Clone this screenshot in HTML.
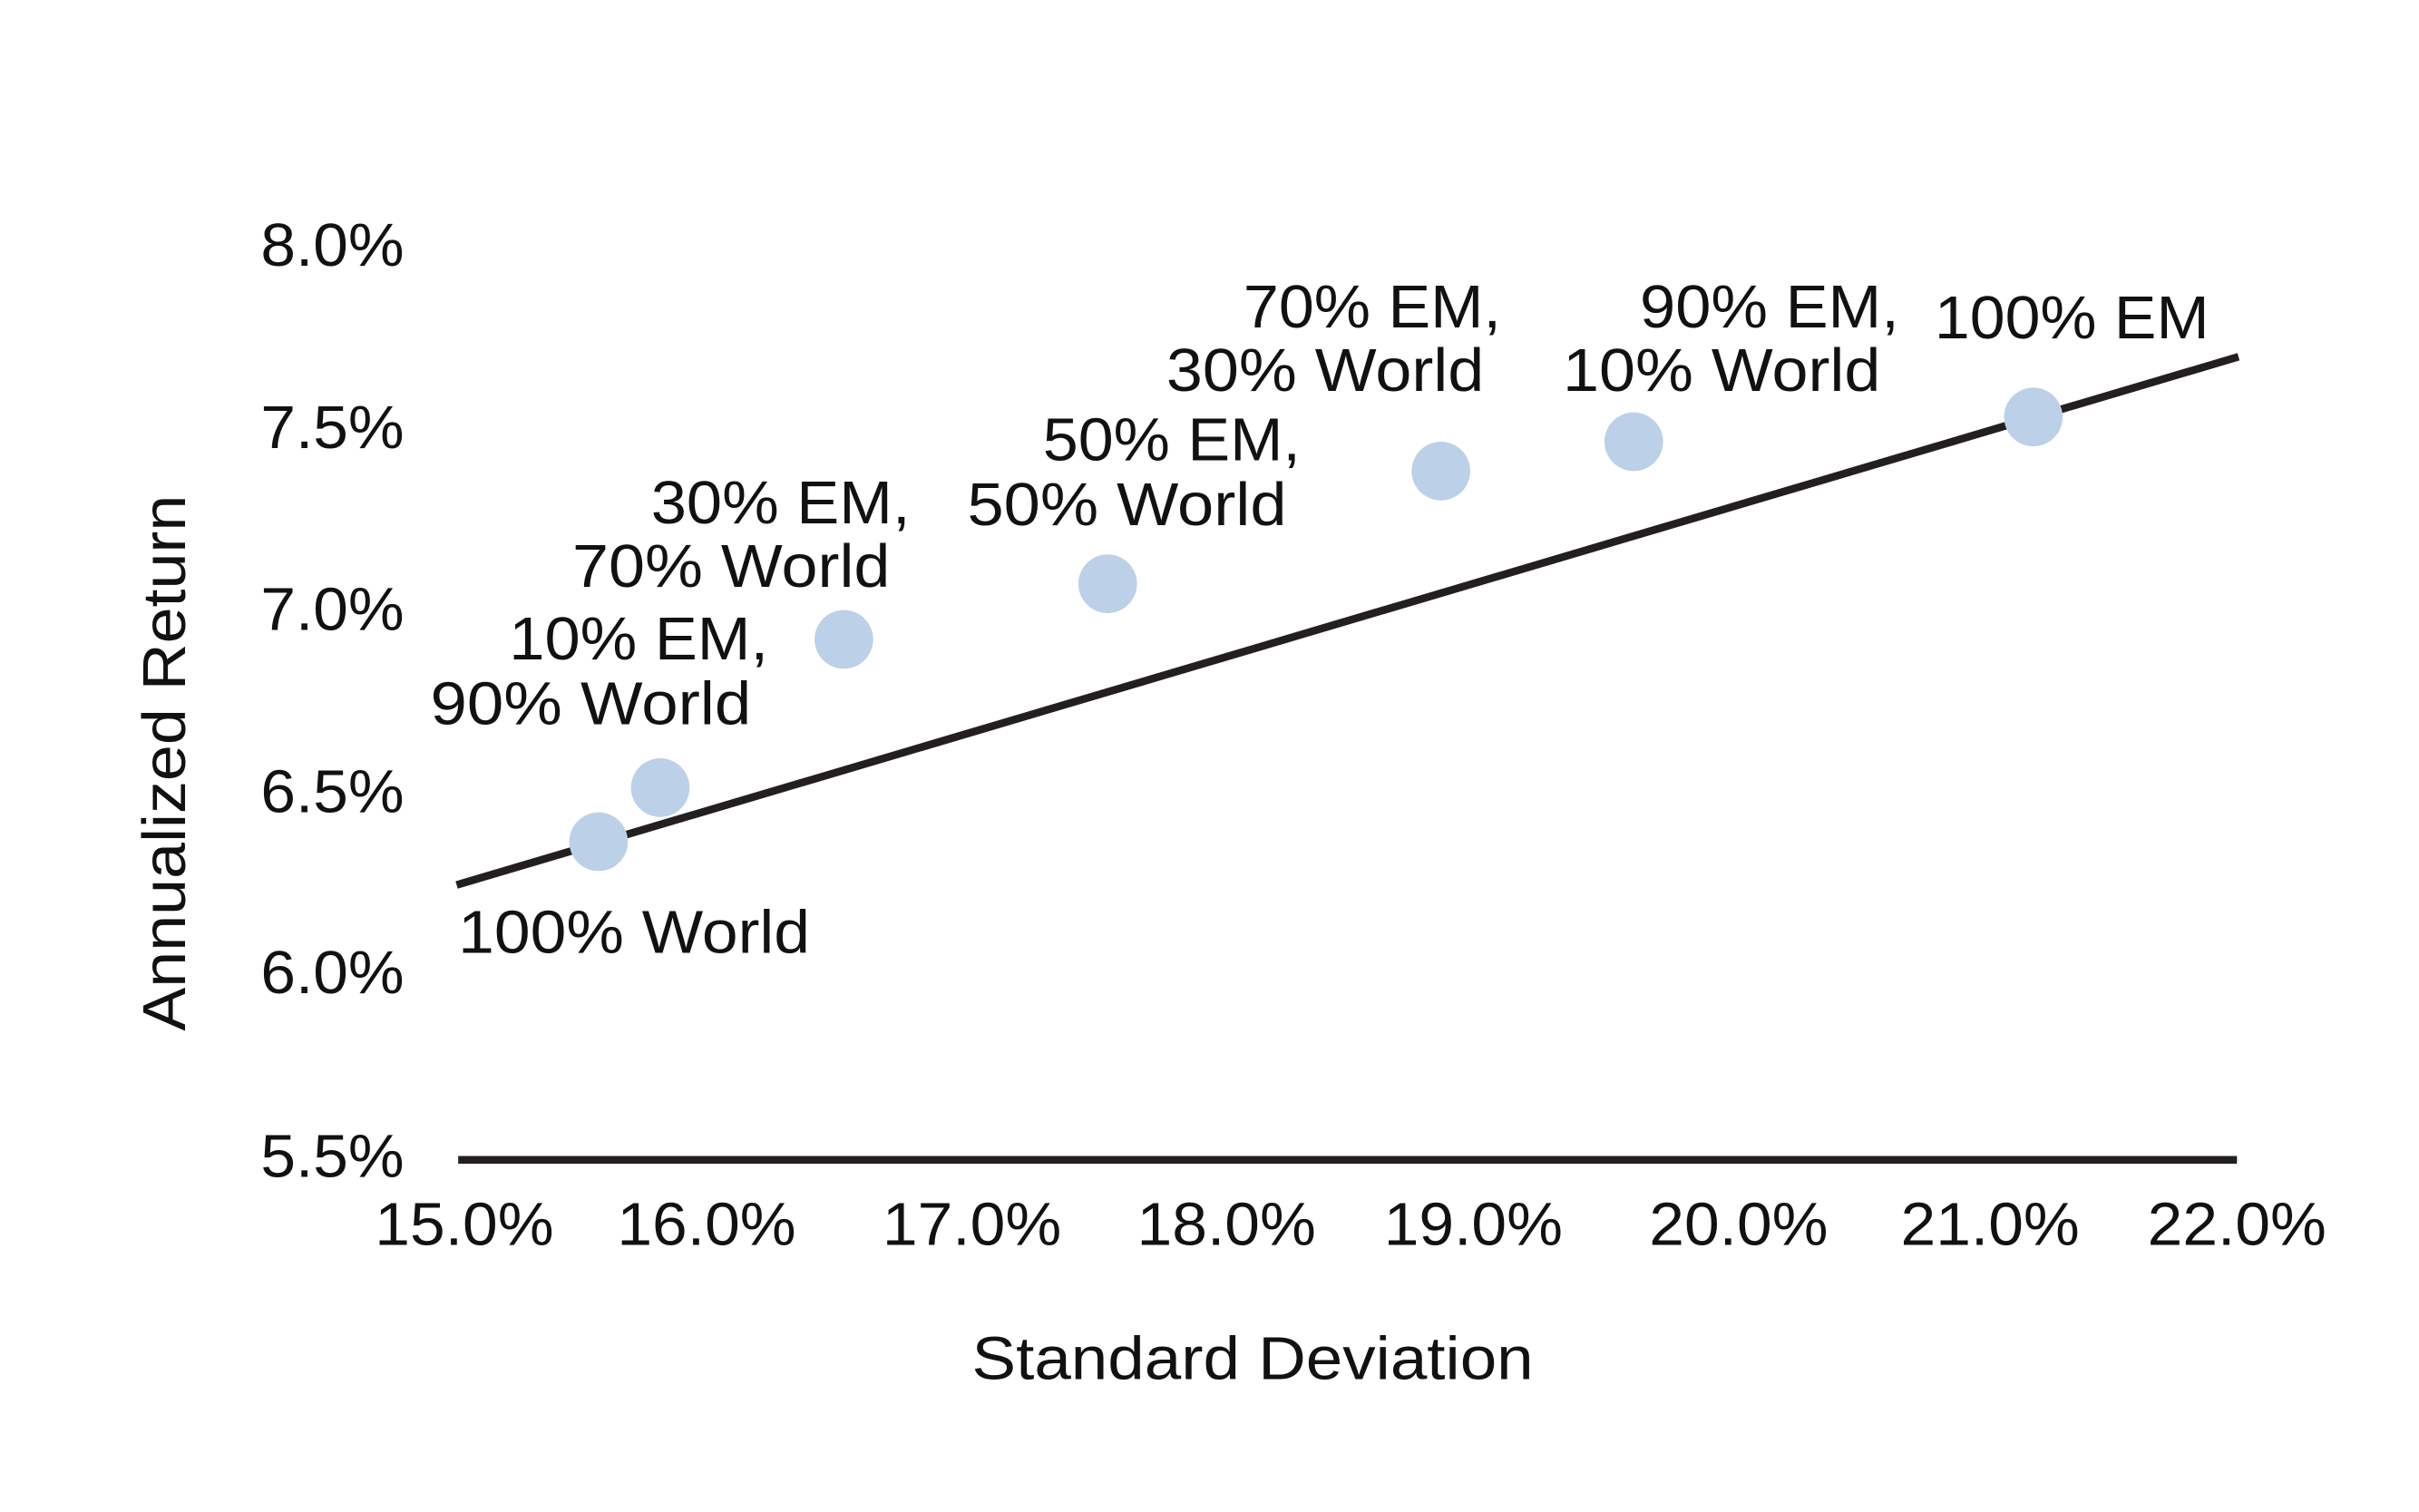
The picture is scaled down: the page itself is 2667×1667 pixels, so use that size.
<!DOCTYPE html>
<html><head><meta charset="utf-8"><style>
html,body{margin:0;padding:0;background:#fff;}
svg{display:block;}
text{font-family:"Liberation Sans",sans-serif;fill:#111;font-size:39px;}
</style></head><body>
<svg width="2667" height="1667" viewBox="0 0 1568 979" preserveAspectRatio="none" xmlns="http://www.w3.org/2000/svg">
<rect width="1568" height="979" fill="#fff"/>
<g text-anchor="end" lengthAdjust="spacingAndGlyphs">
<text x="262" y="172" textLength="93" lengthAdjust="spacingAndGlyphs">8.0%</text>
<text x="262" y="290" textLength="93" lengthAdjust="spacingAndGlyphs">7.5%</text>
<text x="262" y="408" textLength="93" lengthAdjust="spacingAndGlyphs">7.0%</text>
<text x="262" y="526" textLength="93" lengthAdjust="spacingAndGlyphs">6.5%</text>
<text x="262" y="643" textLength="93" lengthAdjust="spacingAndGlyphs">6.0%</text>
<text x="262" y="762" textLength="93" lengthAdjust="spacingAndGlyphs">5.5%</text>
</g>
<g text-anchor="middle">
<text x="301" y="806" textLength="116" lengthAdjust="spacingAndGlyphs">15.0%</text>
<text x="458" y="806" textLength="116" lengthAdjust="spacingAndGlyphs">16.0%</text>
<text x="630" y="806" textLength="116" lengthAdjust="spacingAndGlyphs">17.0%</text>
<text x="795" y="806" textLength="116" lengthAdjust="spacingAndGlyphs">18.0%</text>
<text x="955" y="806" textLength="116" lengthAdjust="spacingAndGlyphs">19.0%</text>
<text x="1127" y="806" textLength="116" lengthAdjust="spacingAndGlyphs">20.0%</text>
<text x="1290" y="806" textLength="116" lengthAdjust="spacingAndGlyphs">21.0%</text>
<text x="1450" y="806" textLength="116" lengthAdjust="spacingAndGlyphs">22.0%</text>
<text x="812" y="893" textLength="364" lengthAdjust="spacingAndGlyphs">Standard Deviation</text>
<text transform="translate(120,494) rotate(-90)" textLength="347" lengthAdjust="spacingAndGlyphs">Annualized Return</text>
</g>
<line x1="297" y1="751" x2="1450" y2="751" stroke="#231f20" stroke-width="5"/>
<line x1="296" y1="573" x2="1451" y2="231" stroke="#231f20" stroke-width="5"/>
<g fill="#bcd0e8">
<circle cx="388" cy="545" r="19"/>
<circle cx="428" cy="510" r="19"/>
<circle cx="547" cy="414" r="19"/>
<circle cx="718" cy="378" r="19"/>
<circle cx="934" cy="305" r="19"/>
<circle cx="1059" cy="286" r="19"/>
<circle cx="1318" cy="270" r="19"/>
</g>
<text x="297" y="617" textLength="228" lengthAdjust="spacingAndGlyphs">100% World</text>
<text x="1254" y="219" textLength="178" lengthAdjust="spacingAndGlyphs">100% EM</text>
<g text-anchor="end">
<text x="498" y="427" textLength="168" lengthAdjust="spacingAndGlyphs">10% EM,</text>
<text x="487" y="469" textLength="208" lengthAdjust="spacingAndGlyphs">90% World</text>
<text x="590" y="339" textLength="168" lengthAdjust="spacingAndGlyphs">30% EM,</text>
<text x="577" y="380" textLength="206" lengthAdjust="spacingAndGlyphs">70% World</text>
<text x="843" y="298" textLength="167" lengthAdjust="spacingAndGlyphs">50% EM,</text>
<text x="834" y="340" textLength="207" lengthAdjust="spacingAndGlyphs">50% World</text>
<text x="973" y="212" textLength="167" lengthAdjust="spacingAndGlyphs">70% EM,</text>
<text x="962" y="253" textLength="206" lengthAdjust="spacingAndGlyphs">30% World</text>
<text x="1231" y="212" textLength="168" lengthAdjust="spacingAndGlyphs">90% EM,</text>
<text x="1219" y="253" textLength="206" lengthAdjust="spacingAndGlyphs">10% World</text>
</g>
</svg>
</body></html>
